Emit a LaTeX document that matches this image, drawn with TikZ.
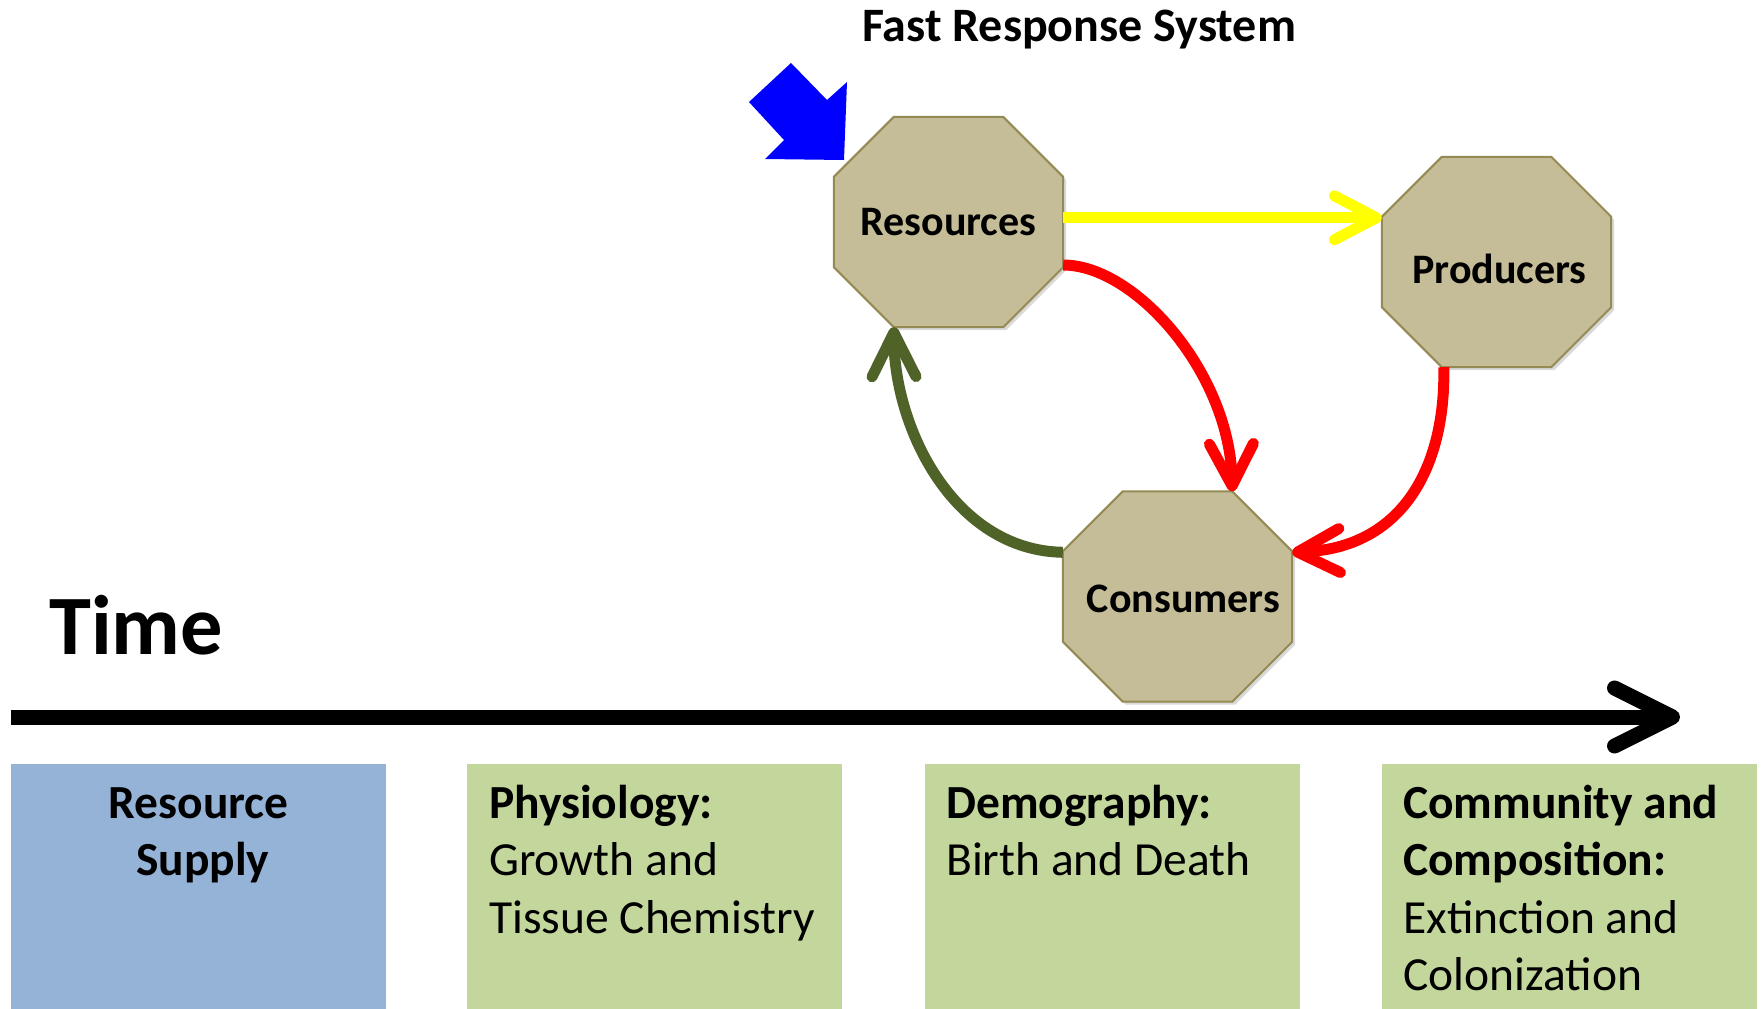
\documentclass[tikz,border=0pt]{standalone}
\usepackage{fontspec}
\setmainfont{Carlito}
\usetikzlibrary{arrows.meta,calc,backgrounds}
\definecolor{octfill}{HTML}{C4BD97}
\definecolor{octline}{HTML}{948A54}
\definecolor{boxblue}{HTML}{95B3D7}
\definecolor{boxgreen}{HTML}{C3D69B}
\definecolor{fbgreen}{HTML}{4F6228}
\definecolor{pureblue}{HTML}{0000FF}
\definecolor{purered}{HTML}{FF0000}
\definecolor{pureyellow}{HTML}{FFFF00}
\newcommand\octpoly[3][]{%
  \path[#1] ($(#2.north west)+(#3,0)$) -- ($(#2.north east)+(-#3,0)$)
    -- ($(#2.north east)+(0,#3)$) -- ($(#2.south east)+(0,-#3)$)
    -- ($(#2.south east)+(-#3,0)$) -- ($(#2.south west)+(#3,0)$)
    -- ($(#2.south west)+(0,-#3)$) -- ($(#2.north west)+(0,#3)$) -- cycle;}
\tikzset{
  octnode/.style={rectangle, minimum width=229pt, minimum height=210pt, inner sep=0pt,
    font=\fontsize{42}{50}\selectfont\bfseries},
  octshape/.style={fill=octfill, draw=octline, line width=2pt},
  octshadow/.style={fill=black, opacity=0.15},
  stagebox/.style={rectangle, anchor=north west, minimum width=375pt, minimum height=245pt, inner sep=0pt},
  stagetext/.style={anchor=base west, inner sep=0pt, text width=360pt, align=flush left,
    font=\fontsize{47.5}{57.5}\selectfont},
  link/.style={line width=11pt},
  headtip/.style={-{Straight Barb[length=#1, width=44pt, round]}},
}
\begin{document}
\begin{tikzpicture}[x=1pt,y=-1pt]
\useasboundingbox (0,0) rectangle (1762,1009);

% title and time label
\node[font=\fontsize{48}{56}\selectfont\bfseries, anchor=base, inner sep=0pt] (title) at (1079,41) {Fast Response System};
\node[font=\fontsize{84.5}{100}\selectfont\bfseries, anchor=base west, inner sep=0pt] (time) at (49,654) {Time};

% octagon nodes
\node[octnode] (res) at (948.5,222) {Resources};
\node[octnode] (pro) at (1496.5,262) {\raisebox{-7pt}[\height][\depth]{\hspace*{6pt}Producers}};
\node[octnode] (con) at (1177.5,596.5) {\raisebox{-2pt}[\height][\depth]{\hspace*{12pt}Consumers}};

\begin{scope}[on background layer]
  \begin{scope}[transform canvas={xshift=3pt,yshift=-3pt}]
    \octpoly[octshadow]{res}{60}
    \octpoly[octshadow]{pro}{60}
    \octpoly[octshadow]{con}{60}
  \end{scope}
  \octpoly[octshape]{res}{60}
  \octpoly[octshape]{pro}{60}
  \octpoly[octshape]{con}{60}
\end{scope}

% blue input arrow
\fill[pureblue] (749,102) -- (791,63) -- (827,100) -- (847,82) -- (844,160) -- (765,159) -- (784,140) -- cycle;

% connection points
\coordinate (pv) at ($(pro.north west)+(0,61)$);
\coordinate (cnv) at ($(con.north east)+(-60,0)$);
\coordinate (cne) at ($(con.north east)+(0,61)$);
\coordinate (cnw) at ($(con.north west)+(0,61)$);
\coordinate (rsw) at ($(res.south west)+(60,0)$);
\coordinate (psw) at ($(pro.south west)+(62,0)$);
\coordinate (rse) at ($(res.east)+(0,43)$);

% flows
\draw[link, pureyellow, headtip=42pt] (res.east |- pv) -- (pv);
\draw[link, purered, headtip=42pt] (rse) .. controls +(72,0) and +(-2,-118) .. (cnv);
\draw[link, purered, headtip=42pt] (psw) .. controls +(2,103) and +(108,-4) .. (cne);
\draw[link, fbgreen, headtip=44pt] (cnw) .. controls +(-108,-2) and +(0.5,103) .. (rsw);

% time axis
\coordinate (tl) at (11,717);
\coordinate (tr) at (1680,717);
\draw[line width=15pt, -{Straight Barb[length=58pt, width=58pt, round]}] (tl) -- (tr);

% stage boxes
\node[stagebox, fill=boxblue] (s1) at (11,764) {};
\node[stagebox, fill=boxgreen] (s2) at (467,764) {};
\node[stagebox, fill=boxgreen] (s3) at (925,764) {};
\node[stagebox, fill=boxgreen] (s4) at (1382,764) {};

\node[stagetext, anchor=base, text width=375pt, align=flush center, font=\fontsize{47.5}{57.5}\selectfont\bfseries] (t1) at ($(s1.north)+(0,54)$) {Resource\\\hspace*{8pt}Supply};
\node[stagetext] (t2) at ($(s2.north west)+(22,54)$) {\textbf{Physiology:}\\Growth and\\Tissue Chemistry};
\node[stagetext] (t3) at ($(s3.north west)+(21,54)$) {\textbf{Demography:}\\Birth and Death};
\node[stagetext] (t4) at ($(s4.north west)+(21,54)$) {\textbf{Community and}\\\textbf{Composition:}\\Extinction and\\Colonization};
\end{tikzpicture}
\end{document}
